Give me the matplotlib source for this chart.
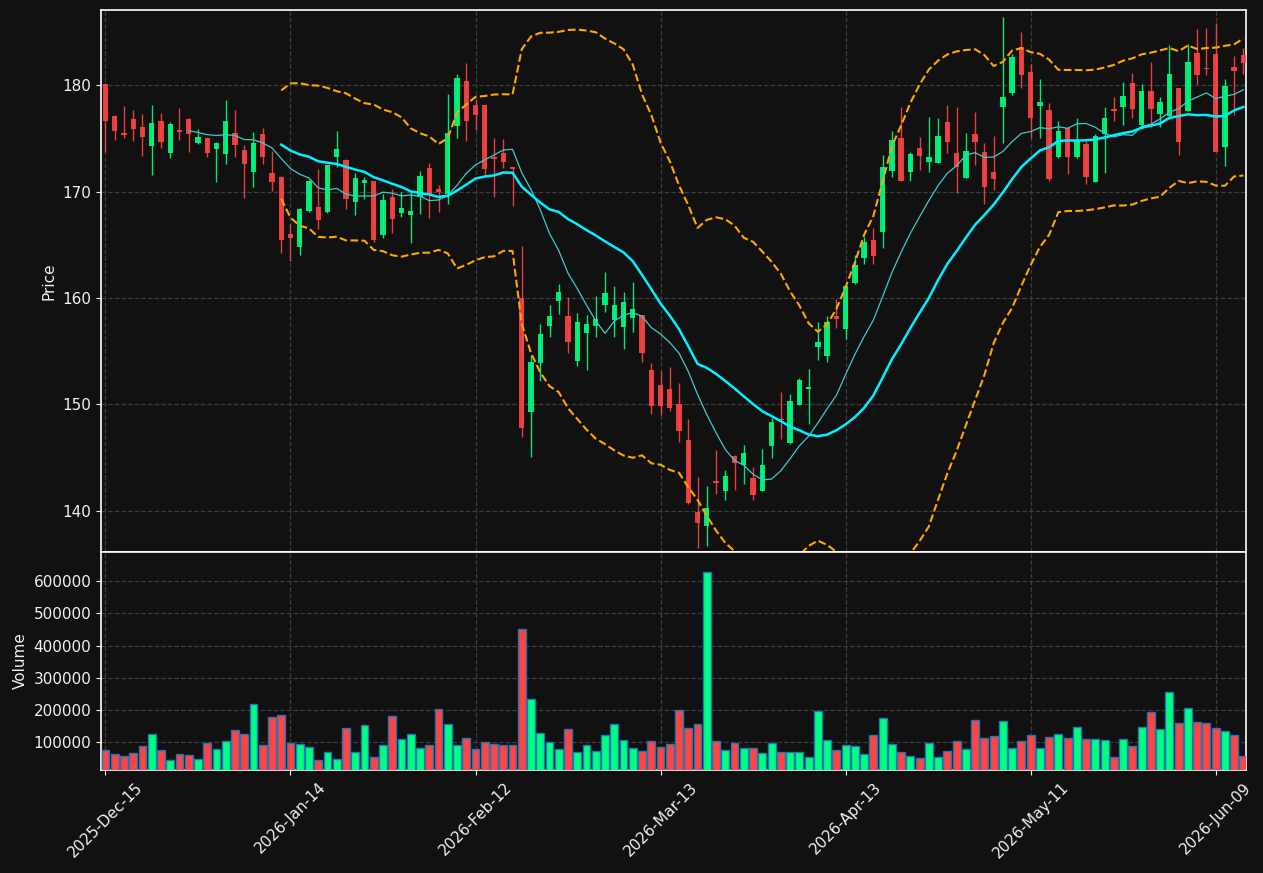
import numpy as np
import pandas as pd
import matplotlib
matplotlib.use('Agg')
import matplotlib.pyplot as plt

# trading days (NYSE calendar)
holidays = ['2025-12-25', '2026-01-01', '2026-01-19', '2026-02-16', '2026-04-03', '2026-05-25']
dates = pd.bdate_range('2025-12-15', '2026-06-12', freq='C', holidays=holidays)

opens = [180.1, 177.1, 175.5, 176.82, 176.06, 174.31, 176.63, 173.66, 175.79, 176.82,
         174.6, 175.03, 174.03, 173.56, 175.5, 173.9, 171.87, 175.41, 171.74, 171.37,
         166.0, 164.82, 168.2, 168.54, 168.1, 173.28, 172.97, 169.05, 170.83, 170.99,
         165.94, 169.48, 168.01, 167.82, 169.52, 172.21, 170.24, 169.77, 176.19, 180.39,
         178.13, 178.14, 173.24, 173.62, 172.3, 159.99, 149.3, 153.91, 157.39, 159.73,
         158.3, 154.1, 156.73, 157.39, 159.36, 157.95, 157.29, 158.14, 158.36, 153.22,
         151.8, 151.43, 150.02, 146.63, 139.87, 138.59, 142.79, 141.87, 145.14, 144.31,
         143.07, 141.87, 146.1, 148.61, 146.32, 149.96, 151.47, 155.41, 154.57, 158.26,
         157.1, 161.43, 163.72, 165.46, 166.24, 171.99, 175.02, 171.86, 174.09, 172.8,
         172.73, 176.54, 173.63, 171.28, 175.41, 173.73, 171.86, 177.96, 179.26, 183.59,
         181.23, 178.06, 177.67, 173.25, 176.03, 173.28, 174.47, 170.93, 175.41, 177.76,
         177.98, 180.2, 176.29, 179.52, 177.32, 177.1, 179.74, 177.6, 183.03, 181.68,
         182.93, 174.22, 181.71, 182.84]
highs = [180.2, 177.2, 178.1, 177.67, 177.35, 178.14, 177.44, 176.54, 177.92, 176.9,
         175.94, 175.19, 174.72, 178.61, 177.67, 174.38, 175.6, 176.0, 173.81, 171.45,
         167.0, 168.45, 171.1, 172.18, 172.55, 175.69, 173.05, 171.77, 171.39, 171.05,
         169.77, 170.26, 170.0, 169.95, 171.93, 172.71, 170.61, 179.17, 181.05, 182.07,
         178.61, 178.2, 175.09, 175.0, 172.35, 164.91, 154.6, 157.6, 159.3, 161.36,
         160.11, 158.61, 158.42, 160.21, 162.4, 161.15, 160.58, 161.46, 158.4, 153.85,
         153.1, 153.47, 151.96, 148.58, 143.12, 142.35, 145.67, 143.81, 145.2, 146.14,
         144.07, 145.76, 148.74, 151.12, 150.93, 152.43, 153.36, 157.7, 158.26, 159.95,
         161.15, 164.03, 165.72, 166.59, 173.47, 175.67, 178.0, 173.73, 175.19, 177.03,
         176.96, 178.19, 178.0, 175.57, 177.54, 174.54, 175.28, 186.46, 182.97, 185.04,
         182.04, 180.65, 178.32, 176.63, 176.1, 176.98, 174.79, 175.41, 177.98, 178.95,
         180.3, 181.14, 180.18, 182.18, 178.95, 183.78, 179.8, 183.94, 185.29, 185.44,
         185.91, 180.65, 182.81, 183.5]
lows = [173.7, 174.85, 175.1, 174.82, 173.4, 171.62, 174.16, 173.22, 174.9, 173.78,
        174.5, 173.31, 170.96, 172.62, 173.31, 169.45, 170.46, 172.62, 170.08, 164.25,
        163.5, 164.0, 168.1, 166.5, 168.0, 172.28, 168.42, 167.85, 169.27, 165.28,
        165.6, 166.13, 167.64, 165.13, 167.92, 167.54, 168.11, 168.86, 175.06, 174.75,
        175.82, 171.62, 169.55, 172.27, 168.64, 146.88, 145.07, 152.15, 156.29, 158.45,
        154.78, 153.56, 153.19, 156.32, 158.64, 156.29, 155.16, 156.76, 153.94, 149.05,
        148.98, 149.37, 146.47, 140.6, 136.46, 136.68, 141.6, 140.96, 141.9, 142.47,
        140.96, 141.8, 144.91, 146.7, 146.25, 149.9, 148.1, 154.13, 153.94, 157.17,
        156.17, 161.35, 163.2, 163.2, 164.75, 171.41, 170.99, 171.0, 172.08, 171.86,
        172.7, 173.63, 169.92, 171.25, 172.54, 168.89, 170.18, 174.62, 179.1, 179.77,
        175.09, 175.06, 170.99, 173.18, 171.71, 173.2, 170.77, 170.9, 171.8, 176.69,
        176.32, 176.94, 175.91, 176.1, 176.13, 177.05, 173.5, 177.55, 180.17, 180.99,
        173.7, 172.46, 177.25, 181.08]
closes = [176.7, 175.72, 175.35, 175.91, 175.16, 176.45, 174.69, 176.35, 175.6, 175.44,
          175.13, 173.66, 174.56, 176.63, 174.41, 172.62, 174.56, 173.28, 170.93, 165.47,
          165.66, 168.36, 171.0, 167.35, 172.5, 174.0, 169.33, 171.27, 171.08, 165.47,
          169.2, 167.44, 168.45, 168.17, 171.46, 169.77, 169.95, 175.5, 180.68, 176.63,
          177.19, 172.15, 173.09, 172.81, 172.15, 147.79, 153.97, 156.6, 158.3, 160.52,
          155.88, 157.73, 157.51, 157.98, 160.43, 159.3, 159.67, 158.92, 154.85, 149.87,
          149.87, 149.68, 147.51, 140.74, 138.87, 140.25, 142.63, 143.22, 144.45, 145.42,
          141.5, 144.25, 148.33, 148.49, 150.27, 152.28, 151.63, 155.85, 157.7, 158.04,
          161.11, 163.09, 165.24, 163.91, 172.31, 174.83, 171.02, 173.54, 173.38, 173.25,
          175.22, 174.67, 172.34, 173.83, 174.67, 170.47, 171.21, 178.87, 182.65, 180.97,
          176.93, 178.42, 171.21, 175.69, 173.28, 174.79, 171.4, 175.29, 176.98, 177.6,
          179.05, 177.79, 179.52, 177.79, 178.42, 181.05, 174.69, 182.18, 180.99, 181.52,
          173.75, 179.92, 181.36, 182.12]
volumes = [75000, 62500, 56250, 65600, 87500, 125000, 75000, 42700, 62500, 59400,
           46900, 96900, 78100, 103000, 137500, 125000, 218750, 90600, 178000, 184400,
           96900, 93750, 84400, 43750, 68750, 46900, 143750, 68750, 153000, 53100,
           90600, 181250, 109400, 125000, 81250, 90600, 203000, 156250, 90600, 112500,
           78100, 100000, 93750, 90600, 90600, 450000, 234400, 128000, 100000, 78100,
           140600, 68750, 90600, 71900, 121900, 156250, 106250, 81250, 71900, 103000,
           84400, 93750, 200000, 143750, 156250, 628000, 103000, 75000, 96900, 81250,
           81250, 65600, 96900, 68750, 68750, 68750, 53100, 196900, 106250, 75000,
           90600, 87500, 62500, 121900, 175000, 93750, 68750, 56250, 50000, 96900,
           53100, 71900, 103000, 78100, 168750, 112500, 118750, 165600, 81250, 103000,
           121900, 81250, 115600, 125000, 112500, 146900, 109400, 109400, 106250, 53100,
           109400, 87500, 146900, 193750, 140600, 256250, 159400, 206250, 162500, 159400,
           143750, 134400, 121900, 56250]

df = pd.DataFrame({'Open': opens, 'High': highs, 'Low': lows,
                   'Close': closes, 'Volume': volumes}, index=dates)

ma10 = df['Close'].rolling(10).mean()
ma20 = df['Close'].rolling(20).mean()
std20 = df['Close'].rolling(20).std()
bb_up = ma20 + 2 * std20
bb_dn = ma20 - 2 * std20

bg = '#111111'
up_c = '#00ff80'
dn_c = '#ff4444'
txt = '#f0f0f0'
plt.rcParams['font.size'] = 11

fig = plt.figure(figsize=(12.63, 8.73), dpi=100, facecolor=bg)
W, H = 1263.0, 873.0
ax = fig.add_axes([101 / W, 1 - 552 / H, 1145 / W, 542 / H], facecolor=bg)
axv = fig.add_axes([101 / W, 1 - 770 / H, 1145 / W, 218 / H], facecolor=bg, sharex=ax)

x = np.arange(len(df))
up = df['Close'] >= df['Open']
colors = np.where(up, up_c, dn_c)

# candles
ax.vlines(x, df['Low'], df['High'], colors=colors, linewidth=1.0, alpha=0.9, zorder=2)
body_bot = np.minimum(df['Open'], df['Close'])
body_h = np.maximum(np.abs(df['Close'] - df['Open']), 0.08)
ax.bar(x, body_h, bottom=body_bot, width=0.58, color=colors, alpha=0.9,
       linewidth=0, zorder=3)

# moving averages + bollinger
ax.plot(x, ma10, color='#40c8c8', linewidth=0.9, zorder=4)
ax.plot(x, ma20, color='#00f0ff', linewidth=1.8, zorder=4)
ax.plot(x, bb_up, color='orange', linestyle='--', linewidth=1.5, zorder=4)
ax.plot(x, bb_dn, color='orange', linestyle='--', linewidth=1.5, zorder=4)

# volume
axv.bar(x, df['Volume'], width=0.85, color=colors, edgecolor='#1f77b4',
        linewidth=1.0, zorder=3)

ax.set_ylim(136.1, 187.1)
axv.set_ylim(0.3 * min(volumes), 1.1 * max(volumes))
ax.set_xlim(-0.48, 123.28)

ticks = list(range(0, len(df), 20))
axv.set_xticks(ticks)
axv.set_xticklabels([dates[i].strftime('%Y-%b-%d') for i in ticks], rotation=45)
plt.setp(ax.get_xticklabels(), visible=False)
ax.tick_params(axis='x', length=0)

ax.set_yticks([140, 150, 160, 170, 180])
axv.set_yticks([100000, 200000, 300000, 400000, 500000, 600000])
axv.yaxis.set_major_formatter(matplotlib.ticker.FormatStrFormatter('%d'))

ax.set_ylabel('Price', color=txt)
axv.set_ylabel('Volume', color=txt)

for a in (ax, axv):
    a.grid(True, color='#3c3c3c', linestyle='--', linewidth=0.9, zorder=0)
    a.set_axisbelow(True)
    a.tick_params(colors=txt, labelcolor=txt)
    for s in a.spines.values():
        s.set_color('white')
        s.set_linewidth(1.2)

fig.savefig('out.png', dpi=100, facecolor=bg)
